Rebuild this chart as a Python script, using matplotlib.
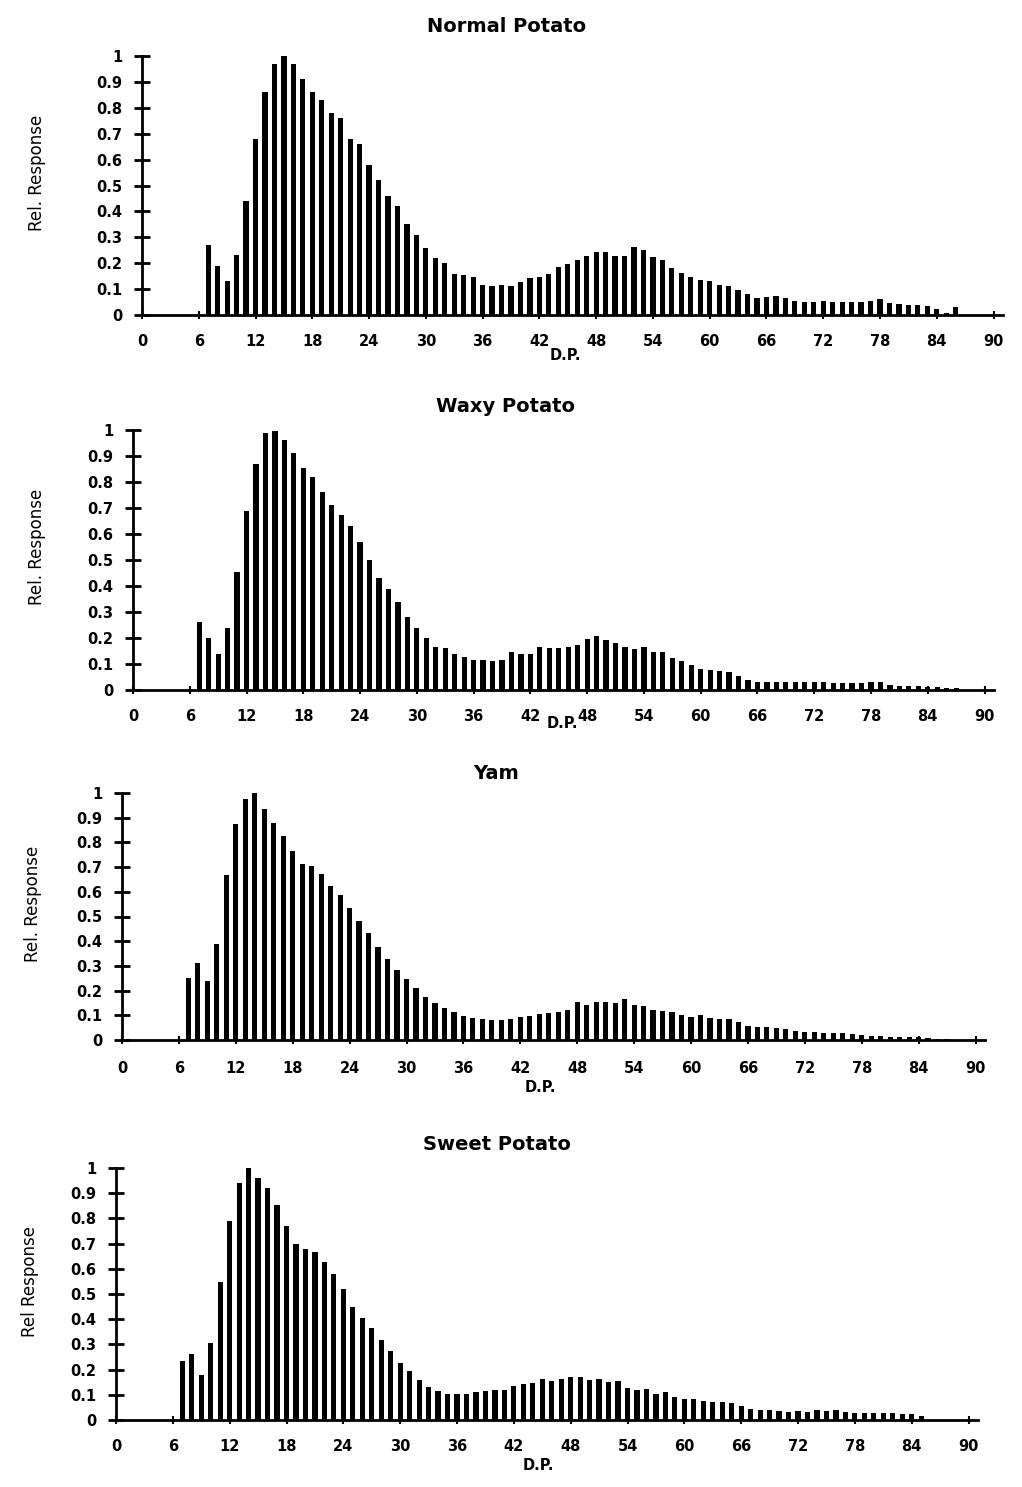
import numpy as np
import matplotlib
matplotlib.use("Agg")
import matplotlib.pyplot as plt

# chain length (D.P.) starts at 7 for every sample
normal_potato = [0.27, 0.19, 0.13, 0.23, 0.44, 0.68, 0.86, 0.97, 1.00, 0.97,
                 0.91, 0.86, 0.83, 0.78, 0.76, 0.68, 0.66, 0.58, 0.52, 0.46,
                 0.42, 0.35, 0.31, 0.26, 0.22, 0.20, 0.16, 0.155, 0.145, 0.117,
                 0.113, 0.117, 0.113, 0.126, 0.142, 0.146, 0.158, 0.187, 0.198, 0.211,
                 0.228, 0.245, 0.245, 0.226, 0.228, 0.264, 0.252, 0.223, 0.211, 0.181,
                 0.162, 0.146, 0.134, 0.130, 0.117, 0.113, 0.095, 0.082, 0.065, 0.068,
                 0.072, 0.065, 0.055, 0.050, 0.050, 0.055, 0.050, 0.050, 0.052, 0.052,
                 0.055, 0.063, 0.046, 0.042, 0.040, 0.040, 0.036, 0.023, 0.008, 0.030]

waxy_potato = [0.26, 0.20, 0.14, 0.24, 0.455, 0.69, 0.87, 0.99, 0.995, 0.96,
               0.91, 0.855, 0.82, 0.76, 0.71, 0.675, 0.63, 0.57, 0.50, 0.43,
               0.39, 0.34, 0.28, 0.24, 0.20, 0.167, 0.16, 0.138, 0.126, 0.115,
               0.115, 0.113, 0.115, 0.145, 0.138, 0.137, 0.167, 0.16, 0.16, 0.167,
               0.173, 0.196, 0.209, 0.192, 0.182, 0.167, 0.158, 0.164, 0.146, 0.146,
               0.123, 0.112, 0.096, 0.080, 0.077, 0.073, 0.071, 0.054, 0.038, 0.032,
               0.032, 0.032, 0.032, 0.030, 0.032, 0.032, 0.029, 0.026, 0.026, 0.026,
               0.026, 0.029, 0.029, 0.019, 0.017, 0.017, 0.015, 0.013, 0.013, 0.009,
               0.006]

yam = [0.25, 0.31, 0.24, 0.39, 0.67, 0.875, 0.976, 1.00, 0.936, 0.878,
       0.827, 0.767, 0.711, 0.705, 0.671, 0.625, 0.589, 0.535, 0.481, 0.434,
       0.377, 0.327, 0.282, 0.248, 0.210, 0.176, 0.150, 0.130, 0.112, 0.099,
       0.089, 0.083, 0.079, 0.079, 0.085, 0.092, 0.099, 0.106, 0.108, 0.112,
       0.122, 0.153, 0.142, 0.153, 0.153, 0.149, 0.167, 0.140, 0.137, 0.122,
       0.119, 0.115, 0.102, 0.092, 0.102, 0.088, 0.085, 0.085, 0.072, 0.058,
       0.054, 0.051, 0.049, 0.045, 0.038, 0.031, 0.031, 0.028, 0.028, 0.027,
       0.024, 0.022, 0.018, 0.018, 0.014, 0.014, 0.014, 0.011, 0.008, 0.004,
       0.004]

sweet_potato = [0.233, 0.26, 0.18, 0.306, 0.549, 0.789, 0.942, 1.00, 0.962, 0.921,
                0.852, 0.771, 0.698, 0.679, 0.665, 0.628, 0.578, 0.520, 0.447, 0.404,
                0.365, 0.319, 0.275, 0.227, 0.194, 0.157, 0.132, 0.117, 0.104, 0.104,
                0.104, 0.112, 0.115, 0.121, 0.121, 0.134, 0.144, 0.148, 0.163, 0.154,
                0.161, 0.170, 0.171, 0.158, 0.163, 0.150, 0.154, 0.128, 0.119, 0.124,
                0.104, 0.111, 0.092, 0.084, 0.082, 0.075, 0.073, 0.073, 0.069, 0.055,
                0.042, 0.038, 0.038, 0.036, 0.033, 0.036, 0.033, 0.038, 0.036, 0.038,
                0.033, 0.029, 0.026, 0.026, 0.029, 0.026, 0.022, 0.022, 0.016]

titles = ["Normal Potato", "Waxy Potato", "Yam", "Sweet Potato"]
ylabels = ["Rel. Response", "Rel. Response", "Rel. Response", "Rel Response"]
series = [normal_potato, waxy_potato, yam, sweet_potato]
first_dp = 7

x_ticks = list(range(0, 91, 6))
y_ticks = [i / 10 for i in range(11)]
y_ticklabels = ["0"] + ["0.%d" % i for i in range(1, 10)] + ["1"]

W, H = 1022, 1487
fig = plt.figure(figsize=(W / 100, H / 100), dpi=100)

# pixel layout per panel: left, zero line, right, top
boxes = [(142, 315, 1003, 56),
         (133, 690, 994, 430),
         (122, 1040, 985, 793),
         (116, 1420, 978, 1168)]
title_pos = [(507, 27), (505, 407), (496, 773), (497, 1145)]
xlab_pos = [(565, 355), (562, 723), (540, 1087), (538, 1466)]
ylab_x = [37, 37, 33, 30]
xtick_pad = [11, 11, 12, 11]

for i, vals in enumerate(series):
    l, y0, r, y1 = boxes[i]
    aw, ah = r - l, y0 - y1
    ax = fig.add_axes([l / W, 1 - y0 / H, aw / W, ah / H])
    dp = np.arange(first_dp, first_dp + len(vals))
    ax.bar(dp, vals, width=0.55, color="black")
    ax.set_xlim(0, 91)
    ax.set_ylim(0, 1)
    ax.spines["top"].set_visible(False)
    ax.spines["right"].set_visible(False)
    ax.spines["left"].set_linewidth(2)
    ax.spines["bottom"].set_linewidth(2)
    ax.spines["bottom"].set_bounds(0, 91)
    ax.set_xticks(x_ticks)
    ax.set_xticklabels([str(t) for t in x_ticks], fontsize=10.5, fontweight="bold")
    ax.set_yticks(y_ticks)
    ax.set_yticklabels(y_ticklabels, fontsize=10.5, fontweight="bold")
    ax.tick_params(axis="y", direction="inout", length=12, width=2, pad=8)
    ax.tick_params(axis="x", direction="inout", length=6, width=1.5, pad=xtick_pad[i])
    ax.set_xlabel("D.P.", fontsize=10.5, fontweight="bold")
    ax.xaxis.set_label_coords((xlab_pos[i][0] - l) / aw, (y0 - xlab_pos[i][1]) / ah)
    ax.xaxis.label.set_va("center")
    ax.set_ylabel(ylabels[i], fontsize=12,
                  family=["Liberation Sans Narrow", "DejaVu Sans"])
    ax.yaxis.set_label_coords((ylab_x[i] - l) / aw, 0.55)
    ax.yaxis.label.set_va("center")
    tx, ty = title_pos[i]
    fig.text(tx / W, 1 - ty / H, titles[i], ha="center", va="center",
             fontsize=14, fontweight="bold")

fig.savefig("out.png", dpi=100)
